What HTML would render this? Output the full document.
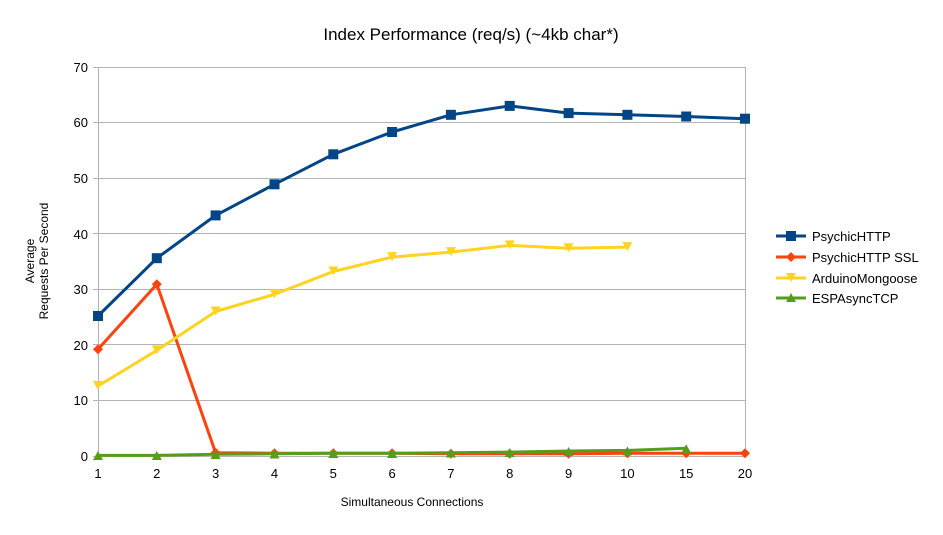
<!DOCTYPE html>
<html><head><meta charset="utf-8"><style>body{margin:0;background:#fff}svg text{font-family:"Liberation Sans",sans-serif}</style></head><body>
<svg width="943" height="530" viewBox="0 0 943 530" xmlns="http://www.w3.org/2000/svg">
<rect width="943" height="530" fill="#fff"/>
<text x="471" y="40" font-size="17" text-anchor="middle" fill="#000">Index Performance (req/s) (~4kb char*)</text>
<g stroke="#b3b3b3" stroke-width="1" fill="none">
<path d="M98 67.5H745M98 122.5H745M98 178.5H745M98 233.5H745M98 289.5H745M98 344.5H745M98 400.5H745M98 456.5H745"/>
<path d="M98.5 67V456M745.5 67V456"/>
<path d="M93 456.5H98M93 400.5H98M93 344.5H98M93 289.5H98M93 233.5H98M93 178.5H98M93 122.5H98M93 67.5H98"/>
</g>
<g font-size="13" text-anchor="end" fill="#000">
<text x="88" y="461">0</text><text x="88" y="405">10</text><text x="88" y="350">20</text><text x="88" y="294">30</text><text x="88" y="239">40</text><text x="88" y="183">50</text><text x="88" y="127">60</text><text x="88" y="72">70</text>
</g>
<g font-size="13" text-anchor="middle" fill="#000">
<text x="98" y="478">1</text><text x="156.8" y="478">2</text><text x="215.6" y="478">3</text><text x="274.5" y="478">4</text><text x="333.3" y="478">5</text><text x="392.1" y="478">6</text><text x="450.9" y="478">7</text><text x="509.7" y="478">8</text><text x="568.6" y="478">9</text><text x="627.4" y="478">10</text><text x="686.2" y="478">15</text><text x="745" y="478">20</text>
</g>
<text x="412" y="506" font-size="12" text-anchor="middle">Simultaneous Connections</text>
<text transform="translate(34,261) rotate(-90)" font-size="12" text-anchor="middle">Average</text>
<text transform="translate(48,261) rotate(-90)" font-size="12" text-anchor="middle">Requests Per Second</text>
<!-- series -->
<polyline fill="none" stroke="#004586" stroke-width="3" stroke-linejoin="round" points="98,316 156.8,258.2 215.6,215.4 274.5,184.3 333.3,154.3 392.1,132 450.9,114.8 509.7,105.9 568.6,113.1 627.4,114.8 686.2,116.5 745,118.7"/>
<g fill="#004586">
<rect x="93" y="311" width="10" height="10"/><rect x="151.8" y="253.2" width="10" height="10"/><rect x="210.6" y="210.4" width="10" height="10"/><rect x="269.5" y="179.3" width="10" height="10"/><rect x="328.3" y="149.3" width="10" height="10"/><rect x="387.1" y="127" width="10" height="10"/><rect x="445.9" y="109.8" width="10" height="10"/><rect x="504.7" y="100.9" width="10" height="10"/><rect x="563.6" y="108.1" width="10" height="10"/><rect x="622.4" y="109.8" width="10" height="10"/><rect x="681.2" y="111.5" width="10" height="10"/><rect x="740" y="113.7" width="10" height="10"/>
</g>
<polyline fill="none" stroke="#ff420e" stroke-width="3" stroke-linejoin="round" points="98,349.3 156.8,284.3 215.6,452.7 274.5,453.2 333.3,453.2 392.1,453.2 450.9,453.8 509.7,453.8 568.6,453.8 627.4,453.2 686.2,453.2 745,453.2"/>
<g fill="#ff420e">
<path d="M98 344.3l5 5-5 5-5-5z"/><path d="M156.8 279.3l5 5-5 5-5-5z"/><path d="M215.6 447.7l5 5-5 5-5-5z"/><path d="M274.5 448.2l5 5-5 5-5-5z"/><path d="M333.3 448.2l5 5-5 5-5-5z"/><path d="M392.1 448.2l5 5-5 5-5-5z"/><path d="M450.9 448.8l5 5-5 5-5-5z"/><path d="M509.7 448.8l5 5-5 5-5-5z"/><path d="M568.6 448.8l5 5-5 5-5-5z"/><path d="M627.4 448.2l5 5-5 5-5-5z"/><path d="M686.2 448.2l5 5-5 5-5-5z"/><path d="M745 448.2l5 5-5 5-5-5z"/>
</g>
<polyline fill="none" stroke="#ffd320" stroke-width="3" stroke-linejoin="round" points="98,386 156.8,350.4 215.6,311.5 274.5,294.3 333.3,271.5 392.1,257.1 450.9,252.1 509.7,245.4 568.6,248.2 627.4,247.1"/>
<g fill="#ffd320">
<path d="M93 381h10l-5 9z"/><path d="M151.8 345.4h10l-5 9z"/><path d="M210.6 306.5h10l-5 9z"/><path d="M269.5 289.3h10l-5 9z"/><path d="M328.3 266.5h10l-5 9z"/><path d="M387.1 252.1h10l-5 9z"/><path d="M445.9 247.1h10l-5 9z"/><path d="M504.7 240.4h10l-5 9z"/><path d="M563.6 243.2h10l-5 9z"/><path d="M622.4 242.1h10l-5 9z"/>
</g>
<polyline fill="none" stroke="#579d1c" stroke-width="3" stroke-linejoin="round" points="98,455.4 156.8,455.4 215.6,454.3 274.5,453.8 333.3,453.2 392.1,453.2 450.9,452.7 509.7,452.1 568.6,451 627.4,450.4 686.2,448.2"/>
<g fill="#579d1c">
<path d="M93 460h10l-5-9z"/><path d="M151.8 460h10l-5-9z"/><path d="M210.6 459h10l-5-9z"/><path d="M269.5 458.5h10l-5-9z"/><path d="M328.3 458h10l-5-9z"/><path d="M387.1 458h10l-5-9z"/><path d="M445.9 457.5h10l-5-9z"/><path d="M504.7 457h10l-5-9z"/><path d="M563.6 456h10l-5-9z"/><path d="M622.4 455.4h10l-5-9z"/><path d="M681.2 453.2h10l-5-9z"/>
</g>
<!-- legend -->
<g font-size="13" fill="#000">
<line x1="776" y1="236" x2="806" y2="236" stroke="#004586" stroke-width="3"/><rect x="786" y="231" width="10" height="10" fill="#004586"/><text x="812" y="241">PsychicHTTP</text>
<line x1="776" y1="257" x2="806" y2="257" stroke="#ff420e" stroke-width="3"/><path d="M791 252l5 5-5 5-5-5z" fill="#ff420e"/><text x="812" y="262">PsychicHTTP SSL</text>
<line x1="776" y1="278" x2="806" y2="278" stroke="#ffd320" stroke-width="3"/><path d="M786 273h10l-5 9z" fill="#ffd320"/><text x="812" y="283">ArduinoMongoose</text>
<line x1="776" y1="298" x2="806" y2="298" stroke="#579d1c" stroke-width="3"/><path d="M786 302h10l-5-9z" fill="#579d1c"/><text x="812" y="303">ESPAsyncTCP</text>
</g>
</svg>
</body></html>
